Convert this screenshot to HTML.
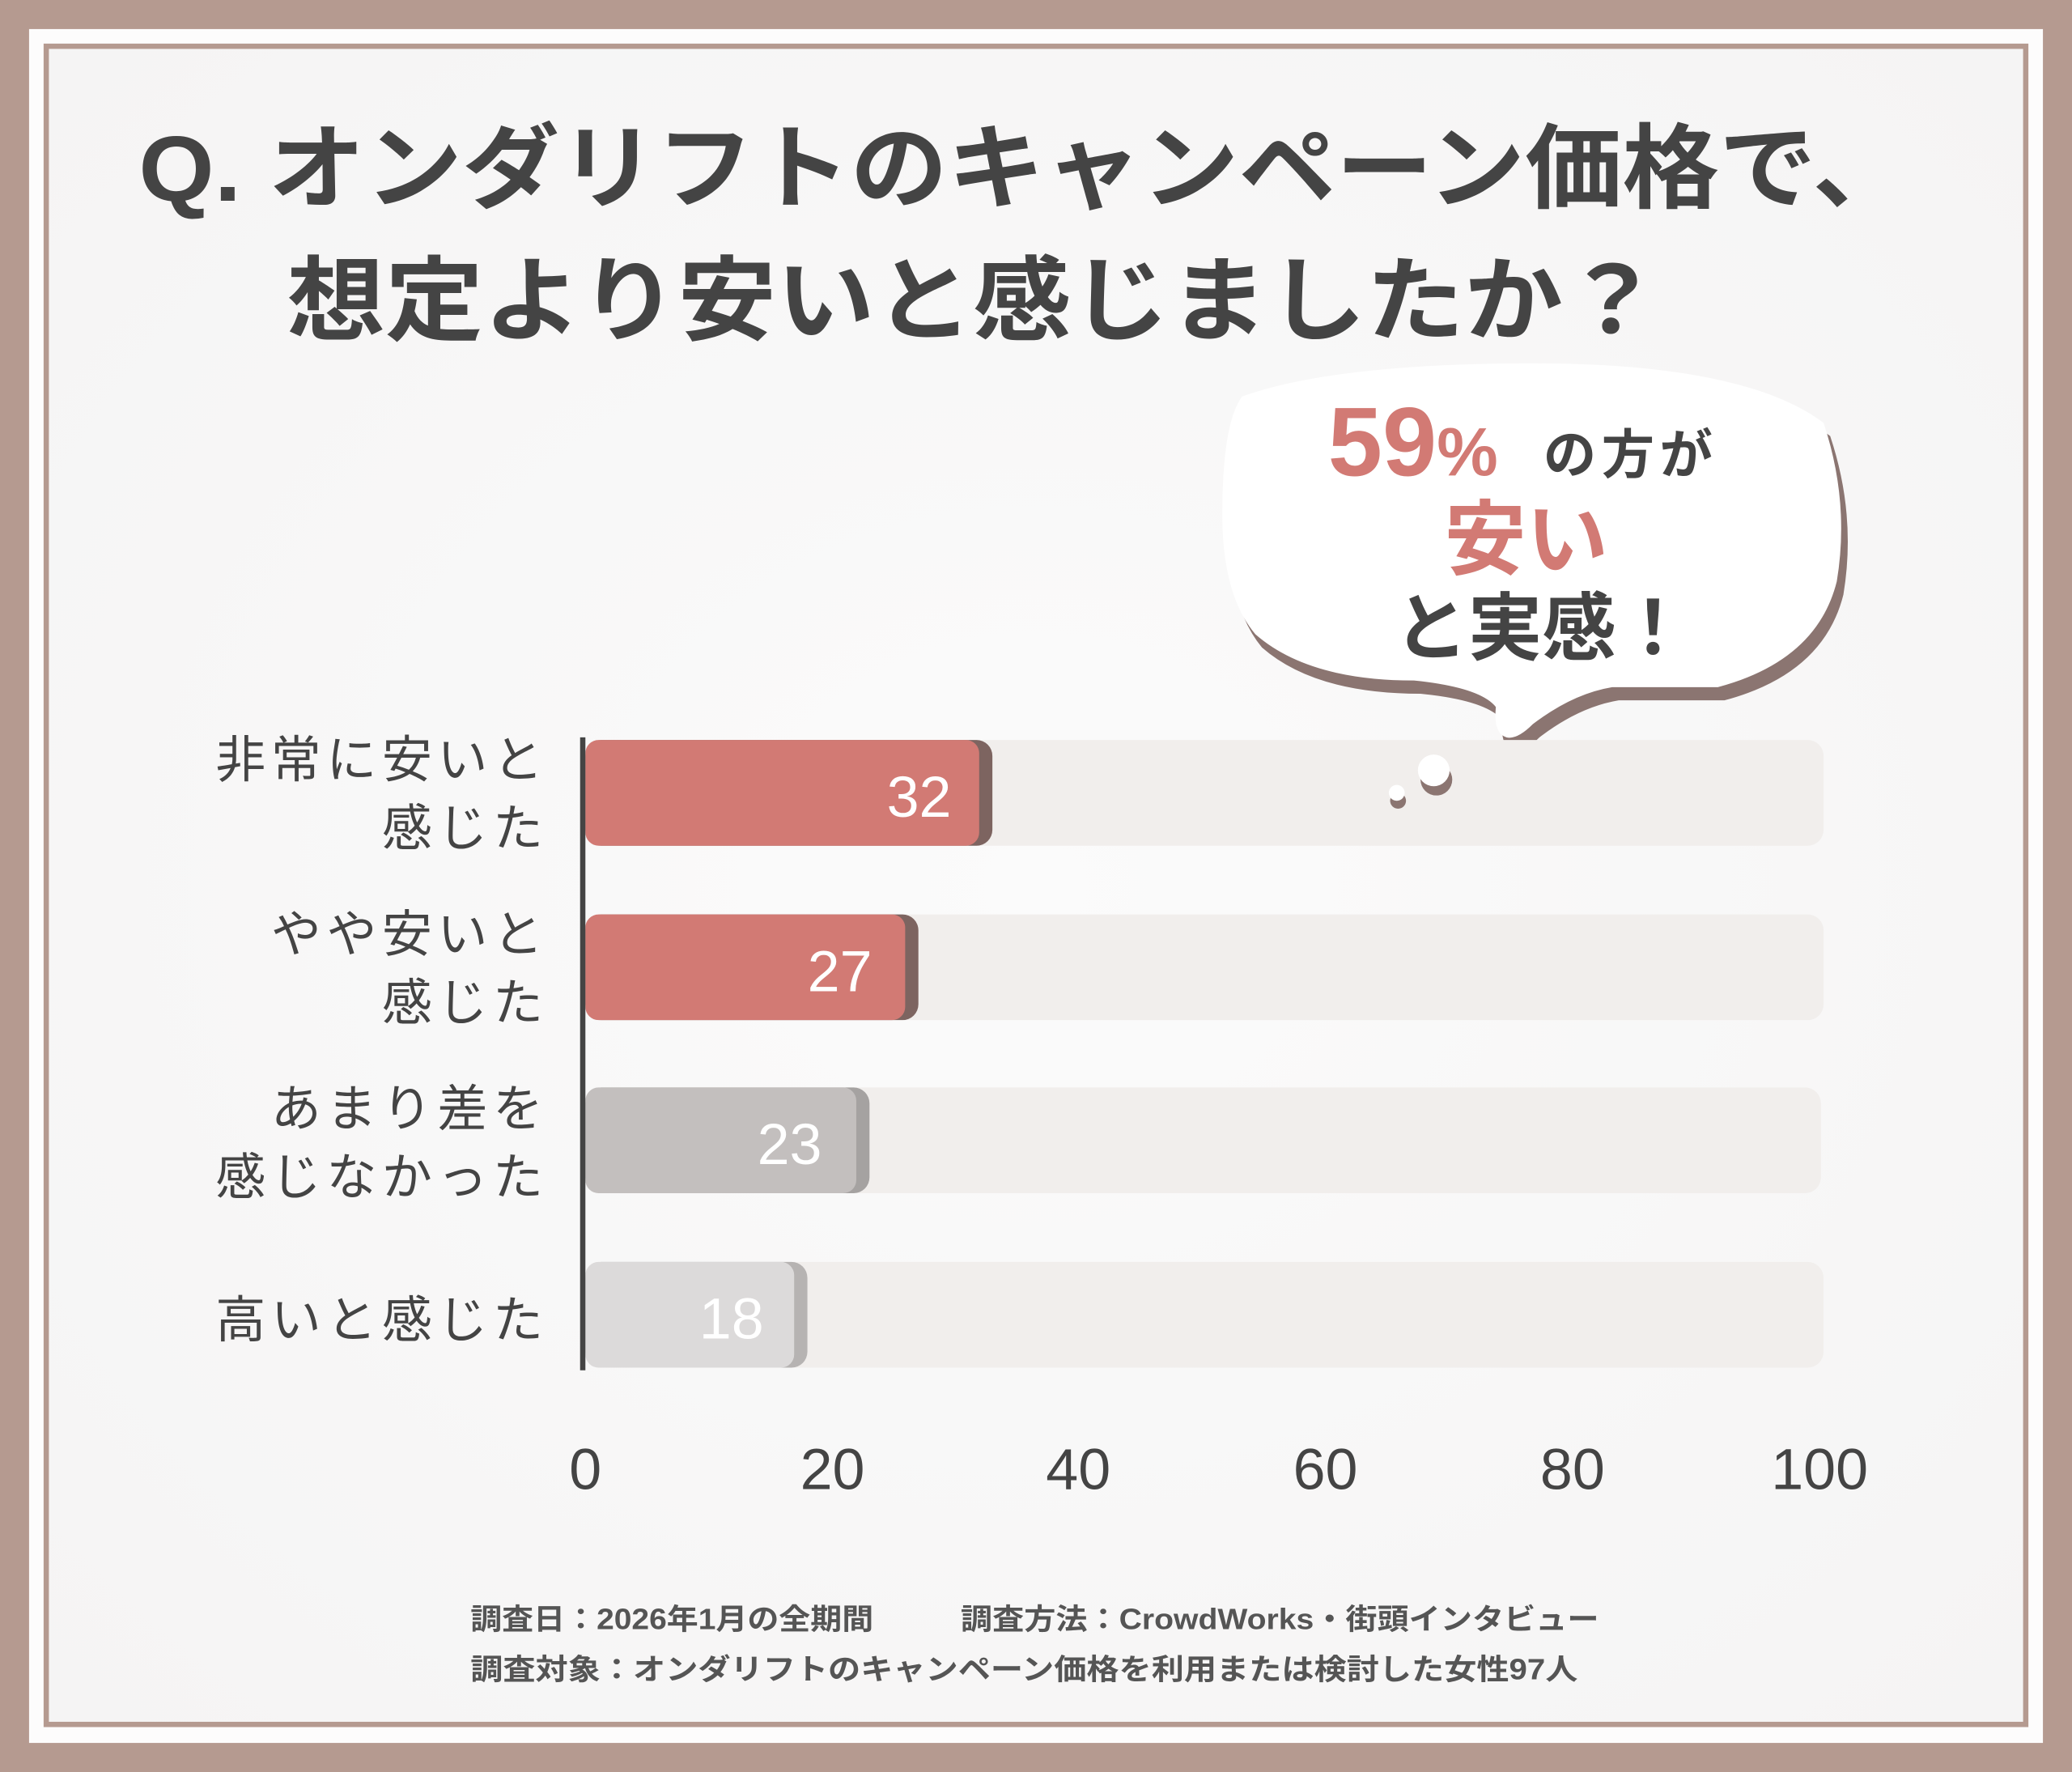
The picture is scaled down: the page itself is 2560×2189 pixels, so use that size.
<!DOCTYPE html>
<html><head><meta charset="utf-8"><style>
html,body{margin:0;padding:0;background:#b59a90}
svg{display:block}
text{font-family:"Liberation Sans","Noto Sans CJK JP",sans-serif}
</style></head><body>
<svg width="2560" height="2189" viewBox="0 0 1568 1341" preserveAspectRatio="none" xmlns="http://www.w3.org/2000/svg">
<defs>
<radialGradient id="bg" cx="0.5" cy="0.5" r="0.7">
<stop offset="0" stop-color="#fbfbfb"/><stop offset="1" stop-color="#f5f4f4"/>
</radialGradient>
</defs>
<rect x="0" y="0" width="1568" height="1341" fill="#b59a90"/>
<rect x="22" y="22" width="1524" height="1297" fill="#fdfcfc"/>
<rect x="35" y="35" width="1498" height="1270" fill="url(#bg)" stroke="#b59a90" stroke-width="4"/>
<g font-weight="bold" fill="#444">
<text x="105" y="152" font-size="70" textLength="1340" lengthAdjust="spacingAndGlyphs">Q. オンダリフトのキャンペーン価格で、</text>
<text x="217" y="252" font-size="70" textLength="1040" lengthAdjust="spacingAndGlyphs">想定より安いと感じましたか？</text>
</g>
<!-- bubble -->
<path d="M940 300 Q1010 275 1160 275 Q1320 275 1380 320 Q1400 380 1390 440 Q1375 500 1300 520 Q1240 520 1220 520 Q1190 525 1160 548 Q1148 560 1140 558 Q1130 555 1132 535 Q1120 520 1070 515 Q990 515 950 480 Q925 450 925 390 Q925 320 940 300 Z" fill="#8b7571" transform="translate(5,10)"/>
<path d="M940 300 Q1010 275 1160 275 Q1320 275 1380 320 Q1400 380 1390 440 Q1375 500 1300 520 Q1240 520 1220 520 Q1190 525 1160 548 Q1148 560 1140 558 Q1130 555 1132 535 Q1120 520 1070 515 Q990 515 950 480 Q925 450 925 390 Q925 320 940 300 Z" fill="#fff"/>
<text x="1005" y="360" font-size="74" fill="#d27a74" font-weight="bold">59<tspan font-size="52">%</tspan></text>
<text x="1168" y="358" font-size="40" fill="#444" font-weight="bold" letter-spacing="4">の方が</text>
<text x="1093" y="430" font-size="62" fill="#d27a74" font-weight="bold">安い</text>
<text x="1055" y="495" font-size="56" fill="#444" font-weight="bold">と実感！</text>
<!-- tracks -->
<g fill="#f1eeec">
<rect x="443" y="560" width="937" height="80" rx="12"/>
<rect x="443" y="692" width="937" height="80" rx="12"/>
<rect x="443" y="823" width="935" height="80" rx="12"/>
<rect x="443" y="955" width="937" height="80" rx="12"/>
</g>
<circle cx="1087" cy="590" r="12" fill="#8b7571"/><circle cx="1085" cy="583" r="12" fill="#fff"/>
<circle cx="1058" cy="606" r="6" fill="#8b7571"/><circle cx="1057" cy="600" r="6" fill="#fff"/>
<!-- bars -->
<rect x="443" y="560" width="308" height="80" rx="12" fill="#7d6460"/>
<rect x="443" y="560" width="298" height="80" rx="10" fill="#d27a74"/>
<rect x="443" y="692" width="252" height="80" rx="12" fill="#7d6460"/>
<rect x="443" y="692" width="242" height="80" rx="10" fill="#d27a74"/>
<rect x="443" y="823" width="215" height="80" rx="12" fill="#a5a2a1"/>
<rect x="443" y="823" width="205" height="80" rx="10" fill="#c3bfbe"/>
<rect x="443" y="955" width="168" height="80" rx="12" fill="#b6b3b2"/>
<rect x="443" y="955" width="158" height="80" rx="10" fill="#dcdada"/>
<g fill="#fff" font-size="44" text-anchor="end">
<text x="720" y="618">32</text><text x="660" y="750">27</text><text x="622" y="881">23</text><text x="578" y="1013">18</text>
</g>
<rect x="439" y="558" width="4" height="479" fill="#444"/>
<g fill="#444" font-size="38" text-anchor="end" letter-spacing="4">
<text x="415" y="588">非常に安いと</text><text x="415" y="640">感じた</text>
<text x="415" y="720">やや安いと</text><text x="415" y="772">感じた</text>
<text x="415" y="852">あまり差を</text><text x="415" y="904">感じなかった</text>
<text x="415" y="1012">高いと感じた</text>
</g>
<g fill="#444" font-size="44" text-anchor="middle">
<text x="443" y="1127">0</text><text x="630" y="1127">20</text><text x="816" y="1127">40</text><text x="1003" y="1127">60</text><text x="1190" y="1127">80</text><text x="1377" y="1127">100</text>
</g>
<g fill="#555" font-size="22" font-weight="bold">
<text x="356" y="1233" textLength="305" lengthAdjust="spacingAndGlyphs">調査日：2026年1月の全期間</text>
<text x="727" y="1233" textLength="483" lengthAdjust="spacingAndGlyphs">調査方法：CrowdWorks・街頭インタビュー</text>
<text x="356" y="1271" textLength="838" lengthAdjust="spacingAndGlyphs">調査対象：オンダリフトのキャンペーン価格を利用または検討した女性97人</text>
</g>
</svg>
</body></html>
